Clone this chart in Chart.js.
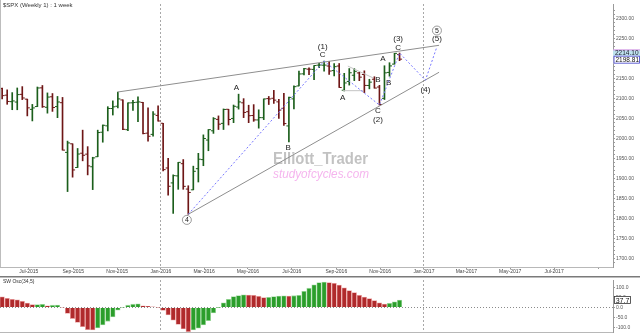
<!DOCTYPE html>
<html>
<head>
<meta charset="utf-8">
<title>$SPX weekly</title>
<script src="https://cdn.jsdelivr.net/npm/chart.js@4.4.1/dist/chart.umd.min.js"></script>
<style>
  html, body { margin: 0; padding: 0; background: #fff; }
  body { width: 640px; height: 336px; position: relative; overflow: hidden; }
  #pricebox { position: absolute; left: 0; top: 0; width: 640px; height: 276px; }
  #oscbox { position: absolute; left: 0; top: 276px; width: 640px; height: 60px; }
</style>
</head>
<body>
<div id="pricebox"><canvas id="priceChart"></canvas></div>
<div id="oscbox"><canvas id="oscChart"></canvas></div>
<script>
// weekly bars, the first one is the week of 25 May 2015
const firstWeek = '2015-05-25';
const opens = [2125.3,2108.6,2092.3,2091.3,2110.6,2098.6,2073.0,2080.0,2126.9,2078.2,
  2104.5,2080.0,2089.7,1965.2,1986.7,1927.3,1963.1,1960.8,1929.2,1954.3,
  2015.7,2031.7,2075.1,2080.8,2096.6,2022.1,2089.4,2090.9,2090.4,2013.4,
  2010.3,2057.8,2038.2,1926.1,1888.7,1906.3,1936.9,1873.3,1871.4,1924.4,
  1947.1,1996.1,2019.3,2047.9,2037.9,2073.2,2050.2,2078.8,2089.4,2067.2,
  2057.6,2046.5,2052.2,2100.0,2100.8,2091.8,2075.6,2031.5,2099.3,2131.7,
  2162.0,2173.7,2173.1,2183.8,2183.7,2181.6,2170.2,2181.6,2120.9,2143.0,
  2158.5,2164.3,2160.4,2132.9,2148.5,2129.0,2100.6,2165.6,2186.4,2210.2];
const highs = [2126.2,2121.9,2115.0,2126.6,2130.0,2098.6,2085.4,2129.0,2132.8,2114.2,
  2112.7,2105.4,2102.9,1993.5,1986.7,1975.0,2020.9,1979.6,1953.0,2020.9,
  2034.0,2079.7,2094.3,2116.5,2096.6,2089.5,2095.6,2104.3,2090.4,2076.7,
  2067.7,2081.6,2038.2,1950.3,1908.9,1940.2,1947.2,1881.6,1930.7,1962.9,
  2009.1,2022.4,2052.4,2056.6,2074.0,2073.2,2083.9,2111.1,2099.9,2083.4,
  2084.9,2071.9,2099.1,2105.3,2120.6,2098.1,2113.3,2103.5,2131.7,2169.1,
  2175.6,2177.1,2183.0,2188.5,2193.8,2193.4,2187.9,2187.9,2163.3,2175.3,
  2175.3,2165.9,2169.6,2148.4,2154.8,2133.2,2182.3,2189.9,2213.4,2214.10];
const lows = [2099.2,2085.7,2072.1,2072.0,2097.4,2056.6,2044.0,2079.9,2077.9,2063.5,
  2067.9,2052.1,1970.9,1867.0,1903.1,1927.3,1944.0,1908.8,1871.9,1954.3,
  1990.7,2019.0,2058.8,2076.3,2022.0,2019.4,2070.3,2042.4,2011.3,1993.3,
  2005.9,2043.6,1918.5,1857.8,1812.3,1872.7,1872.7,1810.1,1871.4,1891.0,
  1931.8,1969.3,2012.8,2022.5,2022.5,2033.8,2039.7,2073.6,2052.3,2039.7,
  2043.0,2025.9,2047.3,2085.1,2087.9,2050.4,2032.6,1991.7,2074.0,2131.7,
  2159.5,2159.8,2147.6,2177.7,2168.5,2160.4,2157.1,2127.8,2119.1,2133.8,
  2145.0,2144.9,2114.7,2124.4,2126.1,2083.8,2097.6,2156.1,2186.4,2195.0];
const closes = [2107.4,2092.8,2094.1,2110.0,2101.5,2076.8,2076.6,2126.6,2079.7,2103.8,
  2077.6,2091.5,1970.9,1988.9,1921.2,1961.1,1958.0,1931.3,1951.4,2014.9,
  2033.1,2075.2,2079.4,2099.2,2023.0,2089.2,2090.1,2091.7,2012.4,2005.6,
  2061.0,2043.9,1922.0,1880.3,1906.9,1940.2,1880.1,1864.8,1917.8,1948.1,
  2000.0,2022.2,2049.6,2035.9,2072.8,2047.6,2080.7,2091.6,2065.3,2057.1,
  2046.6,2052.3,2099.1,2099.1,2096.1,2071.2,2037.4,2103.0,2129.9,2161.7,
  2175.0,2173.6,2182.9,2184.1,2183.9,2169.0,2180.0,2127.8,2139.2,2164.7,
  2168.3,2153.7,2133.0,2141.2,2126.4,2085.2,2164.5,2181.9,2213.4,2198.81];
// SW Osc(34,5), one value per week
const osc = [54.5,47,42,39,32,23,15,15.5,16,9,
  12,12.5,-2,-30,-56,-76,-97,-112,-114,-103,
  -88,-70,-48,-14,2,12,17,18.5,9,6,
  3,-1,-15,-38,-64,-86,-109,-122,-114,-105,
  -88,-67,-27,1,24,42,56,61,64,63,
  62,57,51,52,56,58,59,58,60,62,
  82,98,115,127,129,127,123,114,100,86,
  76,62,53,45,35,24,18,21,29,37.7];

const monthTicks = ['2015-07-01','2015-09-01','2015-11-01','2016-01-01','2016-03-01','2016-05-01',
  '2016-07-01','2016-09-01','2016-11-01','2017-01-01','2017-03-01','2017-05-01','2017-07-01','2017-09-01'];
const monthLabels = ['Jul-2015','Sep-2015','Nov-2015','Jan-2016','Mar-2016','May-2016',
  'Jul-2016','Sep-2016','Nov-2016','Jan-2017','Mar-2017','May-2017','Jul-2017',''];
const priceTicks = [1700,1750,1800,1850,1900,1950,2000,2050,2100,2150,2200,2250,2300];
const oscTicks = [-100,-50,0,50,100];

// wave count drawn on the chart: [date, price, text]
const waveLabels = [
  ['2016-08-13', 2231, '(1)'], ['2016-08-13', 2208.5, 'C'],
  ['2016-04-15', 2127, 'A'], ['2016-06-26', 1976.5, 'B'],
  ['2016-09-10', 2102.5, 'A'], ['2016-10-29', 2147, 'B'],
  ['2016-10-29', 2070.5, 'C'], ['2016-10-29', 2046, '(2)'],
  ['2016-11-05', 2199, 'A'], ['2016-11-13', 2139.5, 'B'],
  ['2016-11-26', 2250.5, '(3)'], ['2016-11-26', 2228.5, 'C'],
  ['2017-01-03', 2122, '(4)'], ['2017-01-19', 2250.5, '(5)']
];
const circledLabels = [['2016-02-06', 1796, '4'], ['2017-01-19', 2270.5, '5']];
const trendLines = [
  [['2015-11-02', 2116.5], ['2017-01-22', 2233.5]],
  [['2016-02-08', 1810.1], ['2017-01-22', 2166]]
];
const helperLines = [
  [['2016-09-10', 2119.8], ['2016-10-08', 2119.8]],
  [['2016-09-17', 2181.5], ['2016-10-22', 2151.9]]
];
const wavePath = [['2016-02-08', 1810.1], ['2016-08-15', 2193.8], ['2016-10-31', 2083.8],
  ['2016-11-28', 2214.1], ['2017-01-03', 2146], ['2017-01-19', 2230]];

const chartGraph = (function () {
  'use strict';
  const font = '"Liberation Sans", Arial, sans-serif';
  const upColor = '#1b5e1b', downColor = '#6e1616';
  const toDay = s => (Date.UTC(+s.slice(0, 4), +s.slice(5, 7) - 1, +s.slice(8, 10)) - Date.UTC(2015, 0, 1)) / 864e5;
  const weekDays = opens.map((o, i) => toDay(firstWeek) + 7 * i);
  const xMin = 141.0, xMax = 994.0;

  const monthXAxis = (showLabels) => ({
    type: 'linear', min: xMin, max: xMax, offset: false,
    afterBuildTicks: s => { s.ticks = monthTicks.map(m => ({ value: toDay(m) })); },
    afterFit: s => { s.height = showLabels ? 9 : 2; },
    ticks: {
      display: showLabels, autoSkip: false, maxRotation: 0, padding: 0,
      color: '#444', font: { size: 5, family: font },
      callback: (v, i) => monthLabels[i]
    },
    grid: {
      offset: false, drawTicks: showLabels, tickLength: 2, tickColor: '#999',
      color: c => (c.tick && monthLabels[c.index] && monthLabels[c.index].startsWith('Jan')) ? '#a8a8a8' : 'rgba(0,0,0,0)'
    },
    border: { display: true, color: '#b8b8b8', dash: [2, 2] }
  });

  function line(ctx, p, q) {
    ctx.beginPath(); ctx.moveTo(p[0], p[1]); ctx.lineTo(q[0], q[1]); ctx.stroke();
  }

  const waveNotes = {
    id: 'waveNotes',
    beforeDatasetsDraw(chart) {
      const ctx = chart.ctx;
      ctx.save();
      ctx.textAlign = 'left'; ctx.textBaseline = 'middle';
      ctx.font = 'bold 17px ' + font; ctx.fillStyle = '#c2c2c2';
      ctx.fillText('Elliott_Trader', 273, 159, 95);
      ctx.font = 'italic 13px ' + font; ctx.fillStyle = '#f5b5ee';
      ctx.fillText('studyofcycles.com', 273, 174, 96);
      ctx.restore();
    },
    afterDatasetsDraw(chart) {
      const { ctx, scales: { x, y } } = chart;
      const pt = ([d, v]) => [x.getPixelForValue(toDay(d)), y.getPixelForValue(v)];
      ctx.save();
      // open / close ticks of the weekly bars
      weekDays.forEach((d, i) => {
        const cx = x.getPixelForValue(d);
        ctx.fillStyle = closes[i] >= opens[i] ? upColor : downColor;
        ctx.fillRect(cx - 2.5, y.getPixelForValue(opens[i]) - 0.5, 2.5, 1);
        ctx.fillRect(cx, y.getPixelForValue(closes[i]) - 0.5, 2.5, 1);
      });
      ctx.lineWidth = 1;
      ctx.strokeStyle = '#8e8e8e';
      trendLines.forEach(([p, q]) => line(ctx, pt(p), pt(q)));
      ctx.strokeStyle = '#c4c4c4';
      helperLines.forEach(([p, q]) => line(ctx, pt(p), pt(q)));
      ctx.strokeStyle = '#7878ff'; ctx.setLineDash([2, 2]);
      ctx.beginPath();
      wavePath.forEach((p, i) => { const [px, py] = pt(p); i ? ctx.lineTo(px, py) : ctx.moveTo(px, py); });
      ctx.stroke();
      ctx.setLineDash([]);
      ctx.textAlign = 'center'; ctx.textBaseline = 'middle';
      ctx.font = '8px ' + font; ctx.fillStyle = '#222';
      waveLabels.forEach(([d, v, t]) => { const [px, py] = pt([d, v]); ctx.fillText(t, px, py); });
      ctx.font = '7px ' + font;
      circledLabels.forEach(([d, v, t]) => {
        const [px, py] = pt([d, v]);
        ctx.beginPath(); ctx.arc(px, py, 4.5, 0, Math.PI * 2);
        ctx.fillStyle = '#fff'; ctx.fill();
        ctx.strokeStyle = '#808080'; ctx.lineWidth = 0.8; ctx.stroke();
        ctx.fillStyle = '#222'; ctx.fillText(t, px, py + 0.5);
      });
      ctx.restore();
    },
    afterDraw(chart) {
      const { ctx, chartArea: a, scales: { y } } = chart;
      ctx.save();
      ctx.strokeStyle = '#bdbdbd'; ctx.lineWidth = 1;
      line(ctx, [0.5, 0], [0.5, a.bottom]);
      ctx.font = '6px ' + font; ctx.fillStyle = '#333';
      ctx.textAlign = 'left'; ctx.textBaseline = 'middle';
      ctx.fillText('$SPX (Weekly 1) : 1 week', 3, 5);
      // last high / last close markers on the price axis
      const last = closes.length - 1;
      const hy = y.getPixelForValue(highs[last]);
      ctx.fillStyle = '#bfe3ee'; ctx.fillRect(a.right, hy - 3.5, 27, 7);
      ctx.fillStyle = '#e07be0'; ctx.fillRect(a.right, hy - 3.5, 27, 0.8);
      ctx.fillStyle = '#223'; ctx.font = '6.5px ' + font;
      ctx.fillText(highs[last].toFixed(2), a.right + 2, hy);
      const cy = y.getPixelForValue(closes[last]) + 0.5;
      ctx.fillStyle = '#fff'; ctx.fillRect(a.right + 0.5, cy - 4, 26, 8);
      ctx.strokeStyle = '#3b3bc8'; ctx.lineWidth = 0.8; ctx.strokeRect(a.right + 1, cy - 3.5, 25.5, 7);
      ctx.fillStyle = '#111';
      ctx.fillText(closes[last].toFixed(2), a.right + 2.5, cy + 0.3);
      ctx.restore();
    }
  };

  const oscNotes = {
    id: 'oscNotes',
    afterDraw(chart) {
      const { ctx, chartArea: a, scales: { y } } = chart;
      ctx.save();
      ctx.fillStyle = '#7a7a7a'; ctx.fillRect(0, 0, 640, 1.5);
      ctx.font = '5px ' + font; ctx.fillStyle = '#333';
      ctx.textAlign = 'left'; ctx.textBaseline = 'middle';
      ctx.fillText('SW Osc(34,5)', 3, 5.5);
      const last = osc[osc.length - 1];
      const py = y.getPixelForValue(last);
      ctx.fillStyle = '#fff'; ctx.fillRect(a.right + 1, py - 4, 17, 8);
      ctx.strokeStyle = '#333'; ctx.lineWidth = 0.8; ctx.strokeRect(a.right + 1.5, py - 3.5, 16, 7);
      ctx.fillStyle = '#111'; ctx.font = '7px ' + font; ctx.textAlign = 'center';
      ctx.fillText(last.toFixed(1), a.right + 9.5, py + 0.5);
      ctx.restore();
    }
  };

  function generate() {
    const price = new Chart(document.getElementById('priceChart'), {
      type: 'bar',
      data: {
        datasets: [{
          data: weekDays.map((d, i) => ({ x: d, y: [lows[i], highs[i]] })),
          backgroundColor: c => closes[c.dataIndex] >= opens[c.dataIndex] ? upColor : downColor,
          barThickness: 1,
          borderWidth: 0
        }]
      },
      options: {
        responsive: true, maintainAspectRatio: false, animation: false,
        layout: { padding: 0 },
        plugins: { legend: { display: false }, tooltip: { enabled: false } },
        scales: {
          x: monthXAxis(true),
          y: {
            position: 'right', min: 1678, max: 2337,
            afterBuildTicks: s => { const t = []; for (let v = 1690; v <= 2320; v += 10) t.push({ value: v }); s.ticks = t; },
            afterFit: s => { s.width = 27; },
            ticks: {
              autoSkip: false, padding: 1, color: '#555', font: { size: 5, family: font },
              callback: v => priceTicks.includes(v) ? v.toFixed(2) : ''
            },
            grid: { drawOnChartArea: false, tickLength: 2, tickColor: '#9a9a9a' },
            border: { color: '#9a9a9a' }
          }
        }
      },
      plugins: [waveNotes]
    });

    const oscillator = new Chart(document.getElementById('oscChart'), {
      type: 'bar',
      data: {
        datasets: [{
          data: weekDays.map((d, i) => ({ x: d, y: osc[i] })),
          backgroundColor: c => (c.dataIndex > 0 && osc[c.dataIndex] >= osc[c.dataIndex - 1]) ? '#2b9e2b' : '#b02a2c',
          borderColor: c => (c.dataIndex > 0 && osc[c.dataIndex] >= osc[c.dataIndex - 1]) ? '#a6dca6' : '#eaa2a2',
          borderWidth: 0.8,
          barThickness: 4.6
        }]
      },
      options: {
        responsive: true, maintainAspectRatio: false, animation: false,
        layout: { padding: 0 },
        plugins: { legend: { display: false }, tooltip: { enabled: false } },
        scales: {
          x: monthXAxis(false),
          y: {
            position: 'right', min: -124, max: 139.5,
            afterBuildTicks: s => { s.ticks = oscTicks.map(v => ({ value: v })); },
            afterFit: s => { s.width = 27; },
            ticks: { autoSkip: false, padding: 1, color: '#555', font: { size: 5, family: font }, callback: v => v.toFixed(1) },
            grid: { tickLength: 2, tickColor: '#9a9a9a', color: c => (c.tick && c.tick.value === 0) ? '#8a8a8a' : 'rgba(0,0,0,0)' },
            border: { color: '#9a9a9a', dash: [1, 2] }
          }
        }
      },
      plugins: [oscNotes]
    });
    return { price, oscillator };
  }

  return generate();
})();
</script>
</body>
</html>
